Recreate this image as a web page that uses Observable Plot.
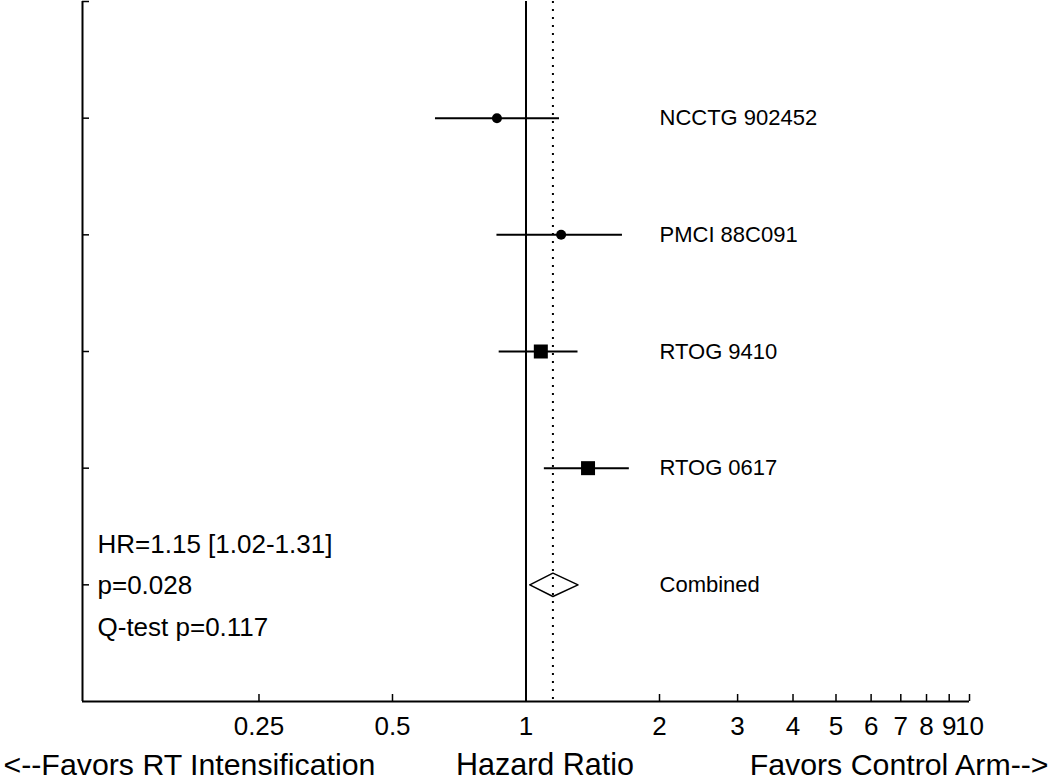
<!DOCTYPE html>
<html><head><meta charset="utf-8">
<script src="https://cdn.jsdelivr.net/npm/d3@7"></script>
<script src="https://cdn.jsdelivr.net/npm/@observablehq/plot@0.6"></script>
<style>
  body { margin: 0; background: #fff; }
  #chart svg { font-family: "Liberation Sans", Arial, Helvetica, sans-serif; color: #000; overflow: visible; }
</style>
</head><body><div id="chart"></div>
<script>
// ---- data ----
const studies = ["NCCTG 902452", "PMCI 88C091", "RTOG 9410", "RTOG 0617"];
const hr      = [0.86, 1.20, 1.08, 1.38];
const ciLow   = [0.625, 0.86, 0.87, 1.10];
const ciHigh  = [1.19, 1.65, 1.31, 1.71];
const markerShape = ["circle", "circle", "square", "square"];
const pooledLabel = "Combined";
const pooledHR = 1.15;
const pooledLow = 1.02;
const pooledHigh = 1.31;
const statsLines = ["HR=1.15 [1.02-1.31]", "p=0.028", "Q-test p=0.117"];
const xTicks = [0.25, 0.5, 1, 2, 3, 4, 5, 6, 7, 8, 9, 10];
const xDomain = [0.1, 10];
const xLabel = "Hazard Ratio";
const leftNote = "<--Favors RT Intensification";
const rightNote = "Favors Control Arm-->";
const labelX = 2;          // studies' names are written at HR = 2
const nullHR = 1;

// ---- layout helpers ----
const rows = studies.map((s, i) => ({study: s, row: i + 1, hr: hr[i], lo: ciLow[i], hi: ciHigh[i], shape: markerShape[i]}));
const pooledRow = studies.length + 1;
const nRows = studies.length + 2;
const dh = 0.1; // diamond half-height (in rows)
const diamond = [
  {x: pooledLow, y: pooledRow}, {x: pooledHR, y: pooledRow - dh},
  {x: pooledHigh, y: pooledRow}, {x: pooledHR, y: pooledRow + dh},
  {x: pooledLow, y: pooledRow}
];
const yTicks = d3.range(0, nRows);

const plot = Plot.plot({
  width: 1050,
  height: 779,
  marginLeft: 82,
  marginRight: 81,
  marginTop: 1,
  marginBottom: 78,
  x: {type: "log", domain: xDomain},
  y: {domain: [0, nRows], reverse: true},
  style: {fontFamily: '"Liberation Sans", Arial, Helvetica, sans-serif', color: "#000", background: "#fff"},
  marks: [
    Plot.ruleX(xDomain.slice(0, 1), {stroke: "#000", strokeWidth: 2}),
    Plot.ruleY([nRows], {stroke: "#000", strokeWidth: 2}),
    Plot.axisX(xTicks, {tickSize: -7, tickFormat: () => "", label: null, strokeWidth: 1.5}),
    Plot.text(xTicks, {x: d => d, frameAnchor: "bottom", text: d => String(d), dy: 33, fontSize: 26, fill: "#000"}),
    Plot.axisY(yTicks, {tickSize: -7, tickFormat: () => "", label: null, strokeWidth: 1.5}),
    Plot.ruleX([nullHR], {stroke: "#000", strokeWidth: 2}),
    Plot.ruleX([pooledHR], {stroke: "#000", strokeWidth: 2, strokeDasharray: "2,6"}),
    Plot.ruleY(rows, {y: "row", x1: "lo", x2: "hi", stroke: "#000", strokeWidth: 2}),
    Plot.dot(rows.filter(d => d.shape === "circle"), {x: "hr", y: "row", r: 5, fill: "#000", symbol: "circle"}),
    Plot.dot(rows.filter(d => d.shape === "square"), {x: "hr", y: "row", r: 7.9, fill: "#000", symbol: "square"}),
    Plot.line(diamond, {x: "x", y: "y", stroke: "#000", strokeWidth: 1.5, fill: "none"}),
    Plot.text(rows, {x: () => labelX, y: "row", text: "study", textAnchor: "start", fontSize: 22, fill: "#000"}),
    Plot.text([pooledLabel], {x: () => labelX, y: () => pooledRow, text: d => d, textAnchor: "start", fontSize: 22, fill: "#000"}),
    Plot.text([statsLines.join("\n")], {frameAnchor: "left", y: () => pooledRow, text: d => d, textAnchor: "start", dx: 15, dy: -4, fontSize: 26, lineHeight: 1.6, fill: "#000"}),
    Plot.text([xLabel], {frameAnchor: "bottom", text: d => d, dx: 19, dy: 73, fontSize: 30.5, fill: "#000"}),
    Plot.text([leftNote], {frameAnchor: "bottom-left", text: d => d, textAnchor: "start", dx: -79, dy: 73, fontSize: 30.3, fill: "#000"}),
    Plot.text([rightNote], {frameAnchor: "bottom-right", text: d => d, textAnchor: "end", dx: 79, dy: 73, fontSize: 30.3, fill: "#000"})
  ]
});
document.getElementById("chart").appendChild(plot);
</script>
</body></html>
